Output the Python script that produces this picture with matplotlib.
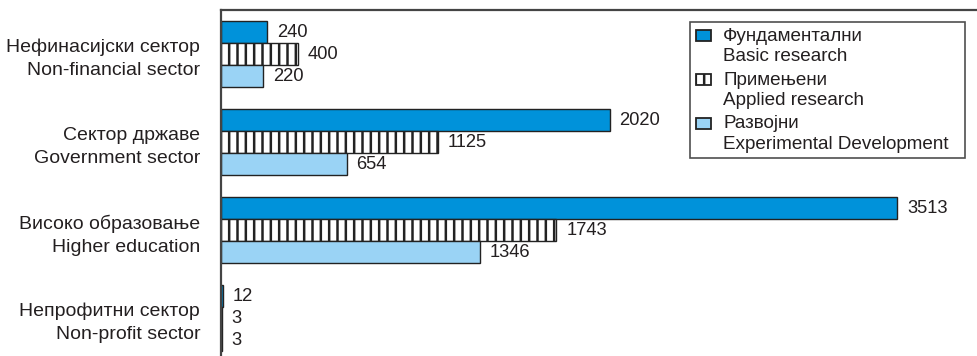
import matplotlib
matplotlib.use("Agg")
import matplotlib.pyplot as plt
import numpy as np
from matplotlib.patches import Patch, Rectangle
from matplotlib.legend_handler import HandlerPatch

plt.rcParams['font.family'] = ['Liberation Sans', 'DejaVu Sans']
plt.rcParams['hatch.linewidth'] = 1.8

categories = ["Нефинасијски сектор\nNon-financial sector",
              "Сектор државе\nGovernment sector",
              "Високо образовање\nHigher education",
              "Непрофитни сектор\nNon-profit sector"]
basic = [240, 2020, 3513, 12]
applied = [400, 1125, 1743, 3]
development = [220, 654, 1346, 3]
series_labels = ["Фундаментални\nBasic research",
                 "Примењени\nApplied research",
                 "Развојни\nExperimental Development"]

fig = plt.figure(figsize=(9.78, 3.56), dpi=100)
ax = fig.add_axes([221/978, 0, 1 - 221/978, 1 - 10/356])

y = np.arange(len(categories))
h = 0.25
c_basic = "#0092DA"
c_dev = "#9AD3F5"
edge = "#222222"
txt = "#231f20"

ax.barh(y - h, basic, height=h, color=c_basic, edgecolor=edge, linewidth=1)
ax.barh(y, applied, height=h, color="white", edgecolor=edge, linewidth=1, hatch="||")
ax.barh(y + h, development, height=h, color=c_dev, edgecolor=edge, linewidth=1)

ax.set_xlim(0, 3933)
ax.set_ylim(3.43, -0.5)

fs = 13.2
for vals, off in ((basic, -h), (applied, 0), (development, h)):
    for yi, v in zip(y, vals):
        ax.annotate(str(v), (v, yi + off), xytext=(7, 0), textcoords="offset points",
                    va="center", ha="left", fontsize=fs, color=txt)

ax.set_yticks(y)
ax.set_yticklabels(categories, fontsize=14, linespacing=1.45, color=txt)
ax.tick_params(axis="y", length=0, pad=15)
ax.set_xticks([])

for s in ("right", "bottom"):
    ax.spines[s].set_visible(False)
for s in ("left", "top"):
    ax.spines[s].set_color("#444444")
    ax.spines[s].set_linewidth(1.6)


def shifted_patch(legend, orig_handle, xdescent, ydescent, width, height, fontsize):
    return Rectangle((-xdescent, -ydescent + 0.55 * fontsize), width, height)


handles = [Patch(facecolor=c_basic, edgecolor=edge, linewidth=1.3),
           Patch(facecolor="white", edgecolor=edge, hatch="||", linewidth=1.3),
           Patch(facecolor=c_dev, edgecolor=edge, linewidth=1.3)]
leg = ax.legend(handles, series_labels, loc="upper left",
                bbox_to_anchor=(690/978, 0, 275/978, 1 - 22/356),
                bbox_transform=fig.transFigure, mode="expand",
                fontsize=13.6, frameon=True, fancybox=False,
                edgecolor="#222222", handlelength=0.8, handleheight=0.5, labelspacing=0.35,
                borderpad=0.3, handletextpad=0.65, borderaxespad=0,
                handler_map={Patch: HandlerPatch(patch_func=shifted_patch)})
leg.get_frame().set_linewidth(1.2)
for t in leg.get_texts():
    t.set_linespacing(1.25)
    t.set_color(txt)

fig.savefig("out.png", dpi=100)
